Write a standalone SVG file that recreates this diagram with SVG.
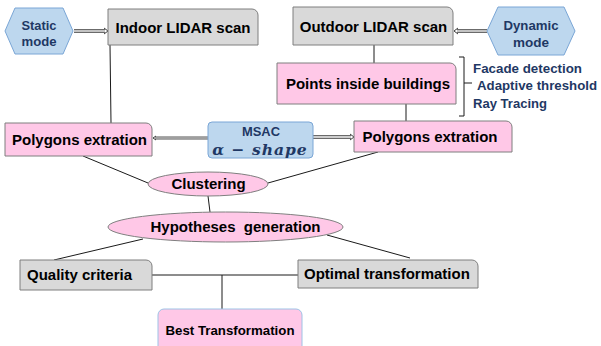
<svg xmlns="http://www.w3.org/2000/svg" width="601" height="346" viewBox="0 0 601 346">
<style>
.gray{fill:#d9d9d9;stroke:#7f7f7f;stroke-width:1}
.pink{fill:#ffc8e7;stroke:#7f7f7f;stroke-width:1}
.hex{fill:#bdd7ee;stroke:#7aa6d6;stroke-width:1}
.msac{fill:#bdd7ee;stroke:#7aa6d6;stroke-width:1}
.best{fill:#ffc8e7;stroke:#9dc3e6;stroke-width:1}
.t{font-family:"Liberation Sans",Arial,sans-serif;font-weight:bold;font-size:15px;fill:#000}
.b{font-family:"Liberation Sans",Arial,sans-serif;font-weight:bold;font-size:13.5px;fill:#1f3864}
.bk{font-family:"Liberation Sans",Arial,sans-serif;font-weight:bold;font-size:13.5px;fill:#000}
.m{font-family:"DejaVu Serif","Liberation Serif",serif;font-weight:bold;font-style:italic;font-size:15.5px;fill:#1f3864}
.ln{stroke:#1a1a1a;stroke-width:1;fill:none}
.dbo{stroke:#3a3a3a;stroke-width:3.5;fill:none}
.dbi{stroke:#ffffff;stroke-width:1.4;fill:none}
.ah{stroke:#3a3a3a;stroke-width:1;fill:none}
</style>
<g id="connectors">
<line class="ln" x1="110" y1="45" x2="111" y2="123"/>
<line class="ln" x1="374" y1="45" x2="374" y2="63"/>
<line class="ln" x1="406" y1="104" x2="406" y2="121"/>
<line class="ln" x1="83" y1="156" x2="148" y2="183"/>
<line class="ln" x1="268" y1="183" x2="378" y2="152"/>
<line class="ln" x1="208" y1="196" x2="210" y2="212"/>
<line class="ln" x1="143" y1="239" x2="54" y2="260"/>
<line class="ln" x1="327" y1="235" x2="410" y2="258"/>
<line class="ln" x1="152" y1="275" x2="298" y2="275"/>
<line class="ln" x1="222" y1="275" x2="222" y2="309"/>
<g id="arrow-static">
<line class="dbo" x1="74" y1="31" x2="105" y2="31"/>
<line class="dbi" x1="74" y1="31" x2="105" y2="31"/>
<polyline class="ah" points="104,28 108,31 104,34"/>
</g>
<g id="arrow-dynamic">
<line class="dbo" x1="487" y1="31" x2="457" y2="31"/>
<line class="dbi" x1="487" y1="31" x2="457" y2="31"/>
<polyline class="ah" points="458,28 454,31 458,34"/>
</g>
<g id="arrow-msac-right">
<line class="dbo" x1="313" y1="137" x2="351" y2="137"/>
<line class="dbi" x1="313" y1="137" x2="351" y2="137"/>
<polyline class="ah" points="350,134 354,137 350,140"/>
</g>
<g id="arrow-msac-left">
<line x1="208" y1="138" x2="155" y2="138" stroke="#8c8c8c" stroke-width="3.5"/>
<line x1="208" y1="138" x2="155" y2="138" stroke="#b0b0b0" stroke-width="1.2"/>
<polyline class="ah" points="156,136 153,138 156,140"/>
</g>
<path class="ln" d="M459,57 H464 V116 H459 M464,83 H472" stroke-width="1.6"/>
</g>
<g id="static-mode">
<polygon class="hex" points="5,31 15,8 63,8 73,31 63,54 15,54"/>
<text class="b" x="39" y="30" text-anchor="middle" textLength="35" lengthAdjust="spacingAndGlyphs">Static</text>
<text class="b" x="39" y="46" text-anchor="middle" textLength="35" lengthAdjust="spacingAndGlyphs">mode</text>
</g>
<g id="indoor">
<path class="gray" d="M108,9 H252 A6,6 0 0 1 258,15 V45 H108 Z"/>
<text class="t" x="183" y="33" text-anchor="middle">Indoor LIDAR scan</text>
</g>
<g id="outdoor">
<path class="gray" d="M293,7 H447 A6,6 0 0 1 453,13 V45 H293 Z"/>
<text class="t" x="373.5" y="32" text-anchor="middle">Outdoor LIDAR scan</text>
</g>
<g id="dynamic-mode">
<polygon class="hex" points="487,31 498,7 564,7 575,31 564,55 498,55"/>
<text class="b" x="531" y="30" text-anchor="middle" textLength="55" lengthAdjust="spacingAndGlyphs">Dynamic</text>
<text class="b" x="531" y="47" text-anchor="middle" textLength="36" lengthAdjust="spacingAndGlyphs">mode</text>
</g>
<g id="points-inside">
<path class="pink" d="M277,63 H450 A6,6 0 0 1 456,69 V104 H277 Z"/>
<text class="t" x="368" y="89" text-anchor="middle">Points inside buildings</text>
</g>
<g id="methods">
<text class="b" x="473" y="73" textLength="109" lengthAdjust="spacingAndGlyphs">Facade detection</text>
<text class="b" x="477" y="90" textLength="120" lengthAdjust="spacingAndGlyphs">Adaptive threshold</text>
<text class="b" x="473" y="108" textLength="74" lengthAdjust="spacingAndGlyphs">Ray Tracing</text>
</g>
<g id="polygons-left">
<path class="pink" d="M5,123 H146 A6,6 0 0 1 152,129 V156 H5 Z"/>
<text class="t" x="79.5" y="145" text-anchor="middle">Polygons extration</text>
</g>
<g id="msac">
<rect class="msac" x="208" y="122" width="105" height="36" rx="4"/>
<text class="b" x="261" y="136" text-anchor="middle" textLength="38" lengthAdjust="spacingAndGlyphs">MSAC</text>
<text class="m" x="260" y="154.5" text-anchor="middle" letter-spacing="1">α − shape</text>
</g>
<g id="polygons-right">
<path class="pink" d="M354,121 H506 A6,6 0 0 1 512,127 V152 H354 Z"/>
<text class="t" x="430" y="142" text-anchor="middle">Polygons extration</text>
</g>
<g id="clustering">
<ellipse class="pink" cx="208" cy="184" rx="60" ry="12"/>
<text class="t" x="208.5" y="189" text-anchor="middle">Clustering</text>
</g>
<g id="hypotheses">
<ellipse class="pink" cx="225.5" cy="227" rx="117.5" ry="15"/>
<text class="t" x="235.5" y="232" text-anchor="middle" xml:space="preserve">Hypotheses  generation</text>
</g>
<g id="quality">
<path class="gray" d="M20,260 H146 A6,6 0 0 1 152,266 V290 H20 Z"/>
<text class="t" x="27" y="280">Quality criteria</text>
</g>
<g id="optimal">
<path class="gray" d="M298,260 H472 A6,6 0 0 1 478,266 V288 H298 Z"/>
<text class="t" x="304" y="279">Optimal transformation</text>
</g>
<g id="best">
<rect class="best" x="158" y="309" width="144" height="50" rx="6"/>
<text class="bk" x="230" y="335" text-anchor="middle" textLength="129" lengthAdjust="spacingAndGlyphs">Best Transformation</text>
</g>
</svg>
